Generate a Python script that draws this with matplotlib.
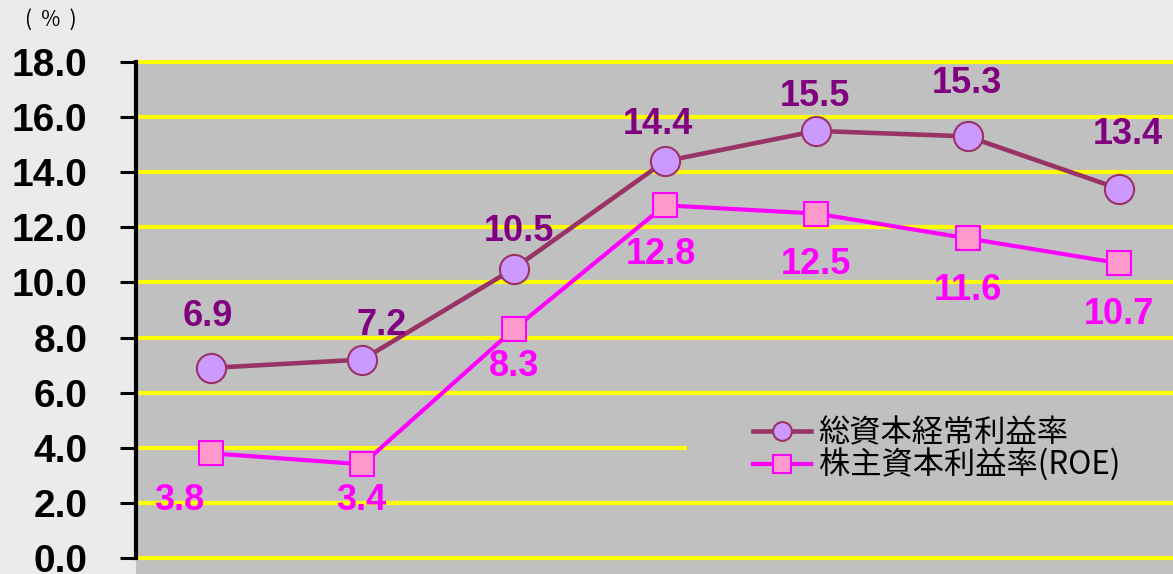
import matplotlib
matplotlib.use("Agg")
import matplotlib.pyplot as plt
from matplotlib.patches import Rectangle
import numpy as np

# ---- data ----
categories = ["1", "2", "3", "4", "5", "6", "7"]
ordinary_profit_ratio = [6.9, 7.2, 10.5, 14.4, 15.5, 15.3, 13.4]
roe = [3.8, 3.4, 8.3, 12.8, 12.5, 11.6, 10.7]
series_names = ["総資本経常利益率", "株主資本利益率(ROE)"]
y_ticks = [0, 2, 4, 6, 8, 10, 12, 14, 16, 18]
unit_label = "(  %  )"

# label offsets in pixels (style/position only)
off1 = [(-3, 51), (19, 34), (5, 37), (-7, 37), (-1, 34), (-1, 53), (9, 54)]
off2 = [(-32, -47), (-1, -36), (0, -37), (-4, -49), (0, -51), (0, -52), (0, -51)]

W, H = 1173, 574
fig = plt.figure(figsize=(W / 100, H / 100), dpi=100)
fig.patch.set_facecolor("#ebebeb")

px_per_unit = (558 - 62) / 18.0
ymin = -1.0
bottom_px = 558 + (-ymin) * px_per_unit
left = 135.5 / W
width = 1059 / W
top = 1 - 62 / H
bottom = 1 - bottom_px / H
ax = fig.add_axes([left, bottom, width, top - bottom])
ax.set_facecolor("#c0c0c0")

x = np.arange(len(categories)) + 0.5
ax.set_xlim(0, len(categories))
ax.set_ylim(ymin, 18)

for t in y_ticks:
    ax.axhline(t, color="#ffff00", lw=3.0, zorder=1, clip_on=False)

# legend background box (occludes gridline)
ax.add_patch(Rectangle(((687 - 135.5) / 1059, 2.25), 1.0, 3.5,
                       transform=ax.get_yaxis_transform(),
                       facecolor="#c0c0c0", edgecolor="none", zorder=1.5))

l1, = ax.plot(x, ordinary_profit_ratio, color="#993366", lw=3.3, marker="o",
              markersize=21, markerfacecolor="#cc99ff", markeredgecolor="#993366",
              markeredgewidth=1.5, zorder=3, label=series_names[0], clip_on=False)
l2, = ax.plot(x, roe, color="#ff00ff", lw=3.0, marker="s",
              markersize=17.5, markerfacecolor="#ff99cc", markeredgecolor="#ff00ff",
              markeredgewidth=1.5, zorder=3, label=series_names[1], clip_on=False)

lab_font = dict(family="Liberation Sans", weight="bold", size=26)
for xi, v, (dx, dy) in zip(x, ordinary_profit_ratio, off1):
    ax.annotate(f"{v:.1f}", (xi, v), xytext=(dx, dy), textcoords="offset pixels",
                ha="center", va="center", color="#800080", zorder=4, **lab_font)
for xi, v, (dx, dy) in zip(x, roe, off2):
    ax.annotate(f"{v:.1f}", (xi, v), xytext=(dx, dy), textcoords="offset pixels",
                ha="center", va="center", color="#ff00ff", zorder=4, **lab_font)

# axes styling
for s in ["top", "right", "bottom"]:
    ax.spines[s].set_visible(False)
ax.spines["left"].set_linewidth(3)
ax.spines["left"].set_bounds(0, 18)
ax.spines["left"].set_zorder(2)
ax.set_xticks([])
ax.set_yticks(y_ticks)
ax.set_yticklabels([f"{t:.1f}" for t in y_ticks],
                   fontdict=dict(family="Liberation Sans", weight="bold", size=28))
ax.tick_params(axis="y", length=11.5, width=2.2, pad=23, color="black")

leg = ax.legend(handles=[l1, l2], loc="upper left",
                bbox_to_anchor=(753 / W, 1 - 417 / H), bbox_transform=fig.transFigure,
                frameon=False, borderpad=0, borderaxespad=0, handlelength=1.85,
                handletextpad=0.25, labelspacing=0.0,
                prop=dict(family=["Noto Sans CJK JP", "DejaVu Sans"], size=22.5))
for h, ms in zip(leg.legend_handles, [13.5, 13]):
    h.set_markersize(ms)
leg.set_zorder(5)

fig.text(51 / W, 1 - 20 / H, unit_label, ha="center", va="center",
         family=["Noto Sans CJK JP", "DejaVu Sans"], size=15)

fig.savefig("out.png", dpi=100, facecolor=fig.get_facecolor())
